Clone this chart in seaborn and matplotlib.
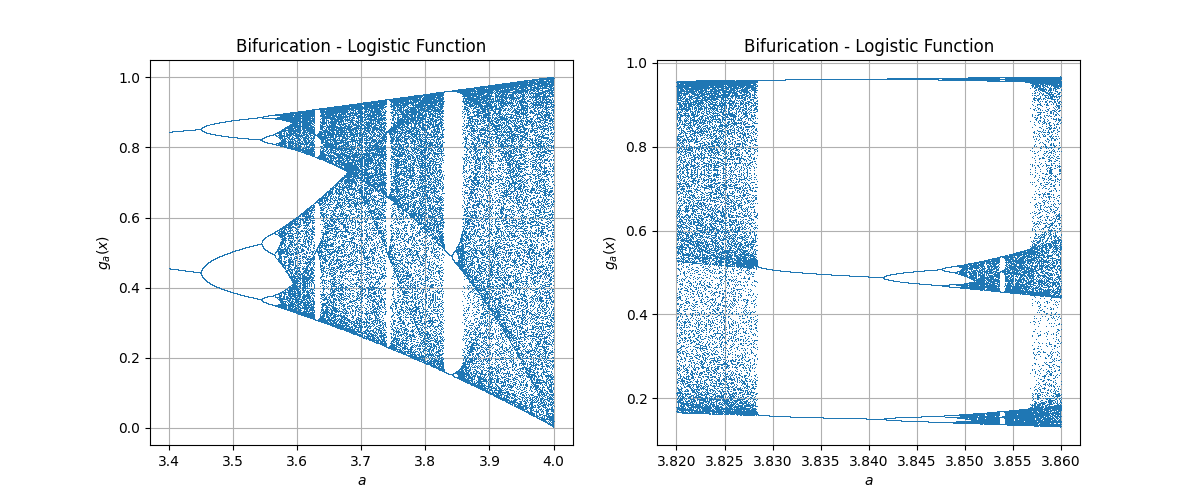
import numpy as np
import pandas as pd
import matplotlib
matplotlib.use("Agg")
import matplotlib.pyplot as plt
import seaborn as sns

# parameter ranges for the two panels (a_min, a_max)
ranges = [(3.4, 4.0), (3.82, 3.86)]
n_values = 10000     # number of a samples per panel
n_iter = 1000        # total iterations of g_a(x) = a x (1 - x)
n_keep = 10          # last iterations that get plotted
x0 = 1e-5

titles = ["Bifurication - Logistic Function", "Bifurication - Logistic Function"]


def bifurcation(a_min, a_max):
    a = np.linspace(a_min, a_max, n_values)
    x = x0 * np.ones(n_values)
    rows = []
    for i in range(n_iter):
        x = a * x * (1 - x)
        if i >= n_iter - n_keep:
            rows.append(pd.DataFrame({"a": a, "x": x.copy()}))
    return pd.concat(rows, ignore_index=True)


fig, axes = plt.subplots(1, 2, figsize=(12, 5))

for ax, (lo, hi), title in zip(axes, ranges, titles):
    df = bifurcation(lo, hi)
    sns.lineplot(data=df, x="a", y="x", ax=ax, estimator=None, sort=False,
                 marker=",", linestyle="", color="tab:blue", legend=False)
    ax.set_title(title)
    ax.set_xlabel("$a$")
    ax.set_ylabel("$g_a(x)$")
    ax.grid(True)

fig.savefig("out.png", dpi=100)
